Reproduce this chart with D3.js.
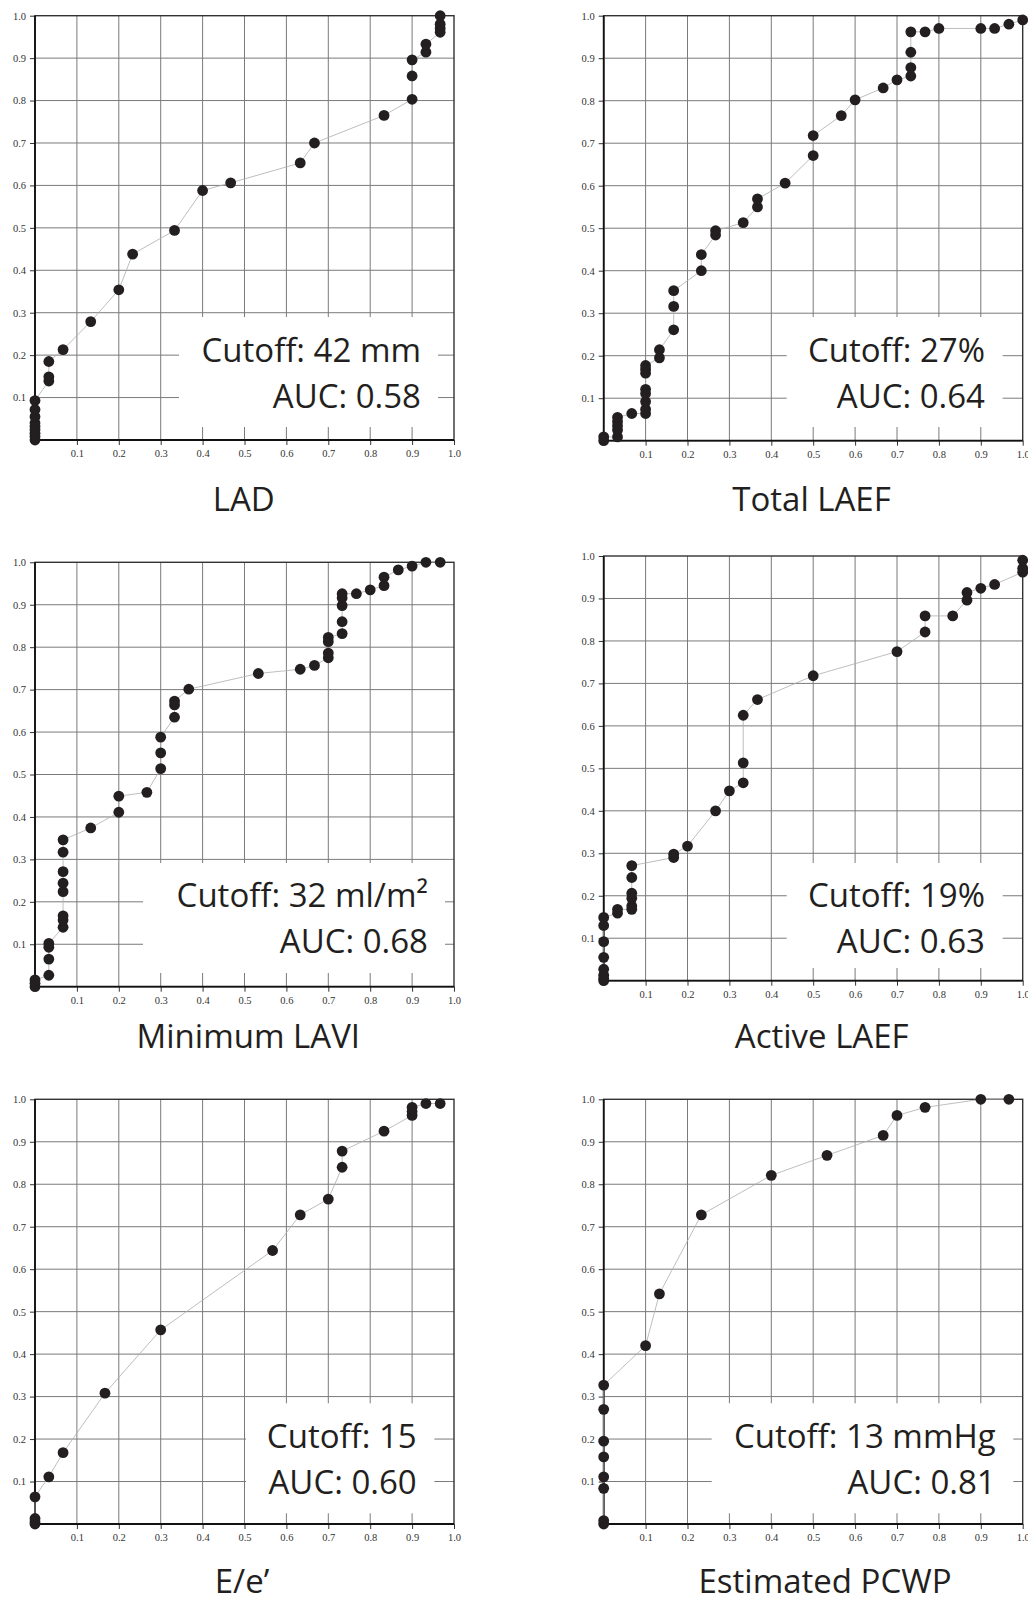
<!DOCTYPE html>
<html>
<head>
<meta charset="utf-8">
<script src="https://cdn.jsdelivr.net/npm/d3@7"></script>
<style>
html,body{margin:0;padding:0;background:#fff;}
svg{display:block;}
</style>
</head>
<body>
<svg id="chart" width="1028" height="1603"></svg>
<script>
// ---------- data ----------
const ticks = [0.1,0.2,0.3,0.4,0.5,0.6,0.7,0.8,0.9,1.0];
const tickLabels = ["0.1","0.2","0.3","0.4","0.5","0.6","0.7","0.8","0.9","1.0"];

const titles = ["LAD","Total LAEF","Minimum LAVI","Active LAEF","E/e\u2019","Estimated PCWP"];
const cutoffs = ["Cutoff: 42 mm","Cutoff: 27%","Cutoff: 32 ml/m\u00B2","Cutoff: 19%","Cutoff: 15","Cutoff: 13 mmHg"];
const aucs = ["AUC: 0.58","AUC: 0.64","AUC: 0.68","AUC: 0.63","AUC: 0.60","AUC: 0.81"];

const ladX = [0,0,0,0,0,0,0,0,0, 0.033,0.033,0.033, 0.067, 0.133, 0.2, 0.233, 0.333, 0.4, 0.467, 0.633, 0.667, 0.833, 0.9,0.9,0.9, 0.933,0.933, 0.967,0.967,0.967,0.967];
const ladY = [0,0.008,0.016,0.024,0.032,0.04,0.055,0.072,0.093, 0.139,0.149,0.185, 0.213, 0.279, 0.354, 0.438, 0.494, 0.588, 0.606, 0.653, 0.7, 0.765, 0.803,0.858,0.896, 0.914,0.933, 0.961,0.97,0.98,1.0];

const totalX = [0,0, 0.033,0.033,0.033,0.033,0.033, 0.067, 0.1,0.1,0.1,0.1,0.1,0.1,0.1,0.1, 0.133,0.133, 0.167,0.167,0.167, 0.233,0.233, 0.267,0.267, 0.333, 0.367,0.367, 0.433, 0.5,0.5, 0.567, 0.6, 0.667, 0.7, 0.733,0.733,0.733,0.733, 0.767, 0.8, 0.9, 0.933, 0.967, 1.0];
const totalY = [0,0.009, 0.009,0.025,0.035,0.045,0.055, 0.064, 0.064,0.074,0.092,0.111,0.121,0.159,0.168,0.177, 0.195,0.214, 0.261,0.316,0.353, 0.4,0.438, 0.484,0.494, 0.513, 0.55,0.569, 0.606, 0.671,0.718, 0.765, 0.802, 0.83, 0.849, 0.858,0.878,0.914,0.962, 0.962, 0.97, 0.97, 0.97, 0.98, 0.99];

const minX = [0,0,0, 0.033,0.033,0.033,0.033, 0.067,0.067,0.067,0.067,0.067,0.067,0.067,0.067, 0.133, 0.2,0.2, 0.267, 0.3,0.3,0.3, 0.333,0.333,0.333, 0.367, 0.533, 0.633, 0.667, 0.7,0.7,0.7,0.7, 0.733,0.733,0.733,0.733,0.733, 0.767, 0.8, 0.833,0.833, 0.867, 0.9, 0.933, 0.967];
const minY = [0,0.008,0.016, 0.027,0.065,0.093,0.102, 0.14,0.157,0.167,0.224,0.244,0.271,0.317,0.346, 0.374, 0.411,0.449, 0.458, 0.514,0.551,0.588, 0.635,0.664,0.673, 0.701, 0.738, 0.748, 0.757, 0.775,0.786,0.813,0.823, 0.832,0.86,0.898,0.916,0.926, 0.926, 0.935, 0.945,0.965, 0.982, 0.991, 1.0, 1.0];

const activeX = [0,0,0,0,0,0,0,0, 0.033,0.033, 0.067,0.067,0.067,0.067,0.067,0.067, 0.167,0.167, 0.2, 0.267, 0.3, 0.333,0.333,0.333, 0.367, 0.5, 0.7, 0.767,0.767, 0.833, 0.867,0.867, 0.9, 0.933, 1,1,1];
const activeY = [0,0.005,0.013,0.027,0.055,0.092,0.13,0.149, 0.159,0.168, 0.168,0.176,0.194,0.206,0.243,0.271, 0.29,0.298, 0.317, 0.4, 0.447, 0.466,0.513,0.625, 0.662, 0.718, 0.775, 0.821,0.859, 0.859, 0.896,0.914, 0.924, 0.933, 0.962,0.971,0.99];

const eeX = [0,0,0,0, 0.033, 0.067, 0.167, 0.3, 0.567, 0.633, 0.7, 0.733,0.733, 0.833, 0.9,0.9,0.9, 0.933, 0.967];
const eeY = [0,0.005,0.013,0.064, 0.111, 0.168, 0.308, 0.457, 0.644, 0.728, 0.765, 0.84,0.878, 0.925, 0.962,0.971,0.981, 0.99, 0.99];

const pcwpX = [0,0,0,0,0,0,0,0, 0.1, 0.133, 0.233, 0.4, 0.533, 0.667, 0.7, 0.767, 0.9, 0.967];
const pcwpY = [0,0.008,0.084,0.111,0.158,0.195,0.27,0.327, 0.42, 0.542, 0.728, 0.821, 0.868, 0.915, 0.962, 0.981, 1.0, 1.0];

const seriesX = [ladX,totalX,minX,activeX,eeX,pcwpX];
const seriesY = [ladY,totalY,minY,activeY,eeY,pcwpY];

// ---------- layout (pixel geometry, kept apart from the data) ----------
const layout = [
  {x0:35,    x1:454,    y0:15.7,  y1:440,   box:[179,317,438,427],     textRight:421, base1:361.7,  base2:408.3,  titleX:243.8, titleY:511},
  {x0:603.7, x1:1022.7, y0:15.7,  y1:440.7, box:[786.7,317,1002.7,427], textRight:985, base1:361.7,  base2:408.3,  titleX:811.5, titleY:511},
  {x0:35,    x1:454,    y0:562.3, y1:986.7, box:[143,863,445,973],     textRight:428, base1:906.7,  base2:953.3,  titleX:248.3, titleY:1048.3},
  {x0:603.7, x1:1022.7, y0:556,   y1:980.7, box:[786.7,863,1002.7,968], textRight:985, base1:906.7,  base2:953.3,  titleX:821.7, titleY:1048.3},
  {x0:35,    x1:454,    y0:1099.3,y1:1524,  box:[246,1403.3,434.3,1513.3], textRight:416.7, base1:1447.7, base2:1494.3, titleX:242, titleY:1593},
  {x0:603.7, x1:1022.7, y0:1099.3,y1:1524,  box:[711.7,1403.3,1013.3,1513.3], textRight:995.7, base1:1447.7, base2:1494.3, titleX:825, titleY:1593}
];

const svg = d3.select("#chart");
const ink = "#231f20";
const sans = "'Open Sans', 'Noto Sans', sans-serif";
const serif = "'Liberation Serif', 'DejaVu Serif', serif";
const fmt = d => tickLabels[ticks.indexOf(d)];

layout.forEach((L, i) => {
  const x = d3.scaleLinear().domain([0,1]).range([L.x0, L.x1]);
  const y = d3.scaleLinear().domain([0,1]).range([L.y1, L.y0]);
  const g = svg.append("g");
  const gridTicks = ticks.filter(t => t < 1);

  // grid
  g.append("g").selectAll("line.v").data(gridTicks).join("line")
    .attr("x1", d => x(d)).attr("x2", d => x(d))
    .attr("y1", L.y0).attr("y2", L.y1)
    .attr("stroke", "#7a7a7a").attr("stroke-width", 1);
  g.append("g").selectAll("line.h").data(gridTicks).join("line")
    .attr("y1", d => y(d)).attr("y2", d => y(d))
    .attr("x1", L.x0).attr("x2", L.x1)
    .attr("stroke", "#7a7a7a").attr("stroke-width", 1);

  // white box behind annotation
  g.append("rect")
    .attr("x", L.box[0]).attr("y", L.box[1])
    .attr("width", L.box[2]-L.box[0]).attr("height", L.box[3]-L.box[1])
    .attr("fill", "#fff");

  g.append("text").attr("x", L.textRight).attr("y", L.base1)
    .attr("text-anchor","end").attr("font-family", sans).attr("font-size", 33)
    .attr("fill", ink).text(cutoffs[i]);
  g.append("text").attr("x", L.textRight).attr("y", L.base2)
    .attr("text-anchor","end").attr("font-family", sans).attr("font-size", 33)
    .attr("fill", ink).text(aucs[i]);

  // axes
  const ax = g.append("g").attr("transform", `translate(0,${L.y1})`)
    .call(d3.axisBottom(x).tickValues(ticks).tickFormat(fmt).tickSize(5).tickPadding(5));
  const ay = g.append("g").attr("transform", `translate(${L.x0},0)`)
    .call(d3.axisLeft(y).tickValues(ticks).tickFormat(fmt).tickSize(5).tickPadding(4));
  [ax, ay].forEach(a => {
    a.select(".domain").remove();
    a.selectAll(".tick line").attr("stroke", "#333");
    a.selectAll(".tick text").attr("font-family", serif).attr("font-size", 10.5).attr("fill", "#333");
  });

  // frame
  g.append("rect").attr("x", L.x0).attr("y", L.y0)
    .attr("width", L.x1-L.x0).attr("height", L.y1-L.y0)
    .attr("fill","none").attr("stroke","#333").attr("stroke-width",1.4);
  g.append("path")
    .attr("d", `M${L.x0},${L.y0}V${L.y1}H${L.x1}`)
    .attr("fill","none").attr("stroke","#111").attr("stroke-width",1.8);

  // ROC curve
  const pts = seriesX[i].map((v, k) => [v, seriesY[i][k]]);
  g.append("path").datum(pts)
    .attr("d", d3.line().x(d => x(d[0])).y(d => y(d[1])))
    .attr("fill","none").attr("stroke","#adadad").attr("stroke-width",0.8);
  g.append("g").selectAll("circle").data(pts).join("circle")
    .attr("cx", d => x(d[0])).attr("cy", d => y(d[1])).attr("r", 5.4)
    .attr("fill", ink);

  // panel title
  g.append("text").attr("x", L.titleX).attr("y", L.titleY)
    .attr("text-anchor","middle").attr("font-family", sans).attr("font-size", 33)
    .attr("fill", ink).text(titles[i]);
});
</script>
</body>
</html>
